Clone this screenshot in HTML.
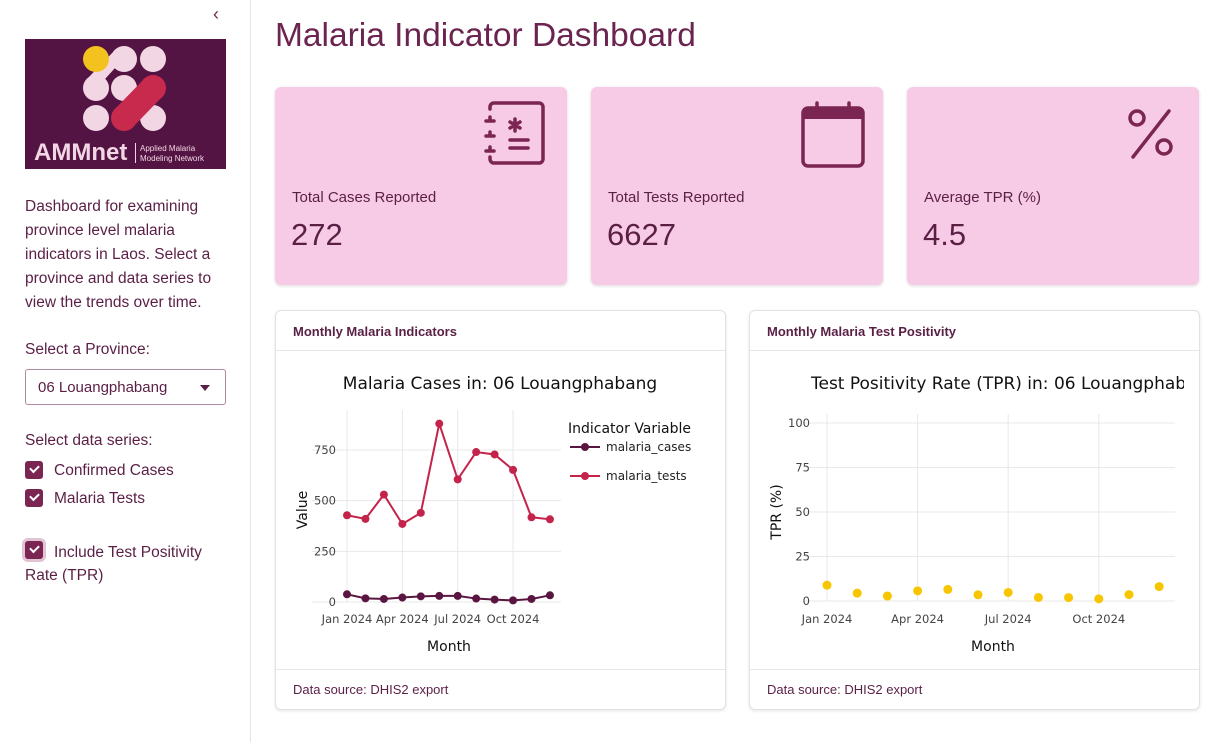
<!DOCTYPE html>
<html><head><meta charset="utf-8"><style>
*{box-sizing:border-box;margin:0;padding:0}
body{width:1226px;height:742px;overflow:hidden;background:#fff;font-family:"Liberation Sans",sans-serif;position:relative;color:#5a1f45}
.abs{position:absolute}
.side{left:0;top:0;width:251px;height:742px;border-right:1px solid #e4e4e4;background:#fff}
.kpi{background:#f7cbe6;border-radius:6px;box-shadow:0 1px 3px rgba(0,0,0,.15);height:198px;top:87px;width:292px}
.kpi .lab{position:absolute;left:17px;top:102px;font-size:15px;color:#5a1f45}
.kpi .val{position:absolute;left:16px;top:130px;font-size:31px;color:#5a1f45}
.card{background:#fff;border:1px solid #e2e2e2;border-radius:6px;box-shadow:0 1px 3px rgba(0,0,0,.1);top:310px;width:451px;height:400px}
.card .hd{height:40px;border-bottom:1px solid #e6e6e6;padding:13px 17px;font-size:13px;font-weight:bold;color:#5a1f45}
.card .ft{position:absolute;bottom:0;left:0;right:0;height:40px;border-top:1px solid #e6e6e6;padding:12px 17px;font-size:13px;color:#5a1f45}
.cb{width:18px;height:18px;background:#7b2552;border-radius:3px;position:absolute}
.cb::after{content:"";position:absolute;left:5px;top:4px;width:7px;height:4px;border-left:2px solid #fff;border-bottom:2px solid #fff;transform:rotate(-45deg)}
.st{font-size:15.5px;color:#5a1f45;position:absolute}
</style></head><body>
<div class="abs side">
 <div class="abs" style="left:213px;top:4px;font-size:18px;color:#7b2552">&#8249;</div>
 <svg class="abs" style="left:25px;top:39px" width="201" height="130">
  <rect width="201" height="130" fill="#531443"/>
  <g fill="#f2d6e4">
   <circle cx="99" cy="20" r="13"/><circle cx="128" cy="20" r="13"/>
   <circle cx="71" cy="49" r="13"/><circle cx="99" cy="49" r="13"/>
   <circle cx="71" cy="79" r="13"/><circle cx="128" cy="79" r="13"/>
   <path d="M80 40 L62 40 L90 11 L90 29Z"/>
  </g>
  <circle cx="71" cy="20" r="13" fill="#f4c21f"/>
  <g fill="#c72a4d"><circle cx="128" cy="49" r="13"/><circle cx="99" cy="79" r="13"/><path d="M119 40 L137 58 L108 88 L90 70Z"/></g>
  <text x="9" y="121" font-size="24" font-weight="bold" fill="#f2d6e4" font-family="Liberation Sans">AMMnet</text>
  <rect x="110" y="104" width="1" height="20" fill="#f2d6e4"/>
  <text x="115" y="112" font-size="8" fill="#f2d6e4">Applied Malaria</text>
  <text x="115" y="122" font-size="8" fill="#f2d6e4">Modeling Network</text>
 </svg>
 <div class="st" style="left:25px;top:195px;width:210px;line-height:24px">Dashboard for examining province level malaria indicators in Laos. Select a province and data series to view the trends over time.</div>
 <div class="st" style="left:25px;top:341px">Select a Province:</div>
 <div class="abs" style="left:25px;top:369px;width:201px;height:36px;border:1px solid #b08aa0;border-radius:3px;font-size:15px;padding:9px 12px;color:#5a1f45">06 Louangphabang<span style="position:absolute;right:15px;top:15px;border-left:5px solid transparent;border-right:5px solid transparent;border-top:6px solid #5a1f45"></span></div>
 <div class="st" style="left:25px;top:432px">Select data series:</div>
 <div class="cb" style="left:25px;top:461px"></div>
 <div class="st" style="left:54px;top:462px">Confirmed Cases</div>
 <div class="cb" style="left:25px;top:489px"></div>
 <div class="st" style="left:54px;top:490px">Malaria Tests</div>
 <div class="cb" style="left:25px;top:541px;box-shadow:0 0 0 3px #e2c3d4"></div>
 <div class="st" style="left:25px;top:541px;width:200px;line-height:23px;text-indent:29px">Include Test Positivity Rate (TPR)</div>
</div>
<div class="abs" style="left:275px;top:17px;font-size:33.5px;color:#6b2450">Malaria Indicator Dashboard</div>

<div class="abs kpi" style="left:275px">
 <svg class="abs" style="left:208px;top:14px" width="66" height="66"><g fill="none" stroke="#7b2552" stroke-width="3.5" stroke-linecap="round"><path d="M7 8 V6 a4 4 0 0 1 4-4 H56 a4 4 0 0 1 4 4 V58 a4 4 0 0 1-4 4 H11 a4 4 0 0 1-4-4 V56"/><path d="M3 20 H11 M7 16 V20 M3 35 H11 M7 31 V35 M3 50 H11 M7 46 V50 M27 39 H45 M27 47 H45 M32 18 V30 M27 21 L37 27 M37 21 L27 27"/></g></svg>
 <div class="lab">Total Cases Reported</div>
 <div class="val">272</div>
</div>
<div class="abs kpi" style="left:591px">
 <svg class="abs" style="left:208px;top:14px" width="70" height="70"><rect x="4" y="7" width="60" height="58" rx="5" fill="none" stroke="#7b2552" stroke-width="3.5"/><rect x="4" y="7" width="60" height="11" fill="#7b2552"/><path d="M18 2 V8 M50 2 V8" stroke="#7b2552" stroke-width="3.5" stroke-linecap="round"/></svg>
 <div class="lab">Total Tests Reported</div>
 <div class="val">6627</div>
</div>
<div class="abs kpi" style="left:907px">
 <svg class="abs" style="left:216px;top:20px" width="56" height="56"><g fill="none" stroke="#7b2552" stroke-width="3.5" stroke-linecap="round"><circle cx="14" cy="11" r="7"/><circle cx="41" cy="40" r="7"/><path d="M46 4 L10 50"/></g></svg>
 <div class="lab">Average TPR (%)</div>
 <div class="val">4.5</div>
</div>

<div class="abs card" style="left:275px"><div class="hd">Monthly Malaria Indicators</div><div class="ft">Data source: DHIS2 export</div></div>
<div class="abs card" style="left:749px;overflow:hidden"><div class="hd">Monthly Malaria Test Positivity</div><div class="ft">Data source: DHIS2 export</div></div>

<svg id="ch" class="abs" style="left:0;top:0" width="1226" height="742" font-family="DejaVu Sans,sans-serif">
<defs><clipPath id="cp"><rect x="750" y="360" width="434" height="40"/></clipPath></defs>
</svg>
<script>
const months=[0,1,2,3,4,5,6,7,8,9,10,11];
const cases=[38,18,15,22,28,30,30,17,12,8,15,33];
const tests=[428,410,530,385,440,880,605,740,728,652,418,408];
const tpr=[8.9,4.4,2.8,5.7,6.5,3.5,4.8,2.0,1.9,1.2,3.6,8.1];
const xTickIdx=[0,3,6,9];
const xTickLabels=["Jan 2024","Apr 2024","Jul 2024","Oct 2024"];
const yTicksL=[0,250,500,750];
const yTicksR=[0,25,50,75,100];
const svg=document.getElementById('ch');
const NS='http://www.w3.org/2000/svg';
function mk(t,a,p){const e=document.createElementNS(NS,t);for(const k in a)e.setAttribute(k,a[k]);(p||svg).appendChild(e);return e;}
function txt(s,a,name){const e=mk('text',a);e.textContent=s;return e;}
const tick={'font-size':11.5,fill:'#444'};
// left chart
const xL=i=>347+i*18.45, yL=v=>602-v*152/750;
const gL=mk('g',{});


yTicksL.forEach(v=>{mk('line',{x1:312,x2:561,y1:yL(v),y2:yL(v),stroke:'#e8e8e8'},gL);txt(String(v),Object.assign({x:336,y:yL(v)+4,'text-anchor':'end'},tick),'y-tick-label');});
xTickIdx.forEach((m,k)=>{mk('line',{x1:xL(m),x2:xL(m),y1:410,y2:602,stroke:'#e8e8e8'},gL);txt(xTickLabels[k],Object.assign({x:xL(m),y:623,'text-anchor':'middle'},tick),'x-tick-label');});
function series(vals,col,name){const pts=months.map(i=>xL(i)+','+yL(vals[i])).join(' ');const pl=mk('polyline',{points:pts,fill:'none',stroke:col,'stroke-width':2},gL);
months.forEach(i=>{const c=mk('circle',{cx:xL(i),cy:yL(vals[i]),r:4,fill:col},gL);});}
series(tests,'#c4234b','malaria-tests');
series(cases,'#5a1640','malaria-cases');
txt('Malaria Cases in: 06 Louangphabang',{x:500,y:389,'text-anchor':'middle','font-size':17,fill:'#111'},'indicators-chart-title');
txt('Value',{x:307,y:510,'text-anchor':'middle','font-size':14,fill:'#111',transform:'rotate(-90 307 510)'},'y-axis-title');
txt('Month',{x:449,y:651,'text-anchor':'middle','font-size':14,fill:'#111'},'x-axis-title');
txt('Indicator Variable',{x:568,y:433,'font-size':14,fill:'#111'},'legend-title');
[[447,'#5a1640','malaria_cases'],[476,'#c4234b','malaria_tests']].forEach(([y,c,l])=>{mk('line',{x1:570,x2:600,y1:y,y2:y,stroke:c,'stroke-width':2});mk('circle',{cx:585,cy:y,r:4,fill:c});txt(l,{x:606,y:y+4,'font-size':12,fill:'#222'},'legend-entry');});
// right chart
const xR=i=>827+i*30.2, yR=v=>601-v*1.78;
const gR=mk('g',{});


yTicksR.forEach(v=>{mk('line',{x1:805,x2:1175,y1:yR(v),y2:yR(v),stroke:'#e8e8e8'},gR);txt(String(v),Object.assign({x:810,y:yR(v)+4,'text-anchor':'end'},tick),'y-tick-label');});
xTickIdx.forEach((m,k)=>{mk('line',{x1:xR(m),x2:xR(m),y1:414,y2:601,stroke:'#e8e8e8'},gR);txt(xTickLabels[k],Object.assign({x:xR(m),y:623,'text-anchor':'middle'},tick),'x-tick-label');});
months.forEach(i=>{const c=mk('circle',{cx:xR(i),cy:yR(tpr[i]),r:4.5,fill:'#f7c600'},gR);});
txt('Test Positivity Rate (TPR) in: 06 Louangphabang',{x:811,y:389,'font-size':17,fill:'#111','clip-path':'url(#cp)'},'tpr-chart-title');
txt('TPR (%)',{x:781,y:512,'text-anchor':'middle','font-size':14,fill:'#111',transform:'rotate(-90 781 512)'},'y-axis-title');
txt('Month',{x:993,y:651,'text-anchor':'middle','font-size':14,fill:'#111'},'x-axis-title');
</script>
</body></html>
